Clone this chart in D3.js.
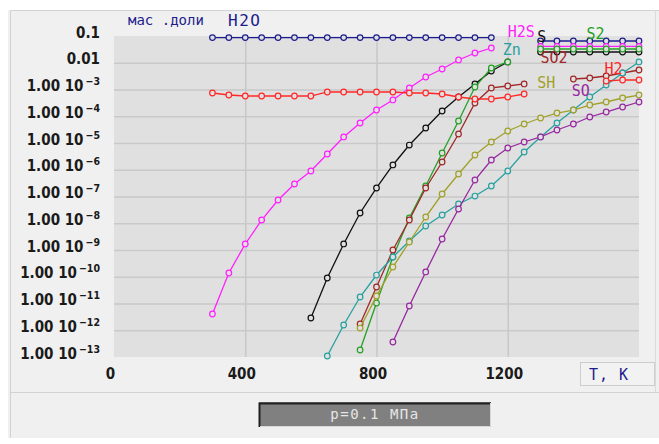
<!DOCTYPE html>
<html>
<head>
<meta charset="utf-8">
<script src="https://cdn.jsdelivr.net/npm/d3@7/dist/d3.min.js"></script>
<style>
  html, body { margin: 0; padding: 0; background: #ffffff; }
  svg { display: block; }
</style>
</head>
<body>
<svg id="chart" width="659" height="444"></svg>
<script>
// Temperatures, K (step 50 K)
const temps = [300,350,400,450,500,550,600,650,700,750,800,850,900,950,1000,
               1050,1100,1150,1200,1250,1300,1350,1400,1450,1500,1550,1600];

// Mass fractions per species (null = no visible point)
const H2O = [0.087,0.087,0.087,0.087,0.087,0.087,0.087,0.087,0.087,0.087,0.087,0.087,0.087,0.087,0.087,
             0.087,0.087,0.087,null,null,0.065,0.065,0.065,0.065,0.065,0.065,0.065];
const H2S = [4.05e-12,1.38e-10,1.68e-9,1.32e-8,7.4e-8,2.93e-7,8.97e-7,3.88e-6,1.68e-5,5.6e-5,1.71e-4,4.06e-4,
             1.14e-3,2.93e-3,5.84e-3,0.0127,0.0231,0.0356,null,null,0.041,0.041,0.041,0.041,0.041,0.041,0.041];
const S   = [null,null,null,null,null,null,2.87e-12,8.98e-11,1.68e-9,2.42e-8,2.08e-7,1.51e-6,8.4e-6,3.64e-5,
             1.57e-4,5.25e-4,1.61e-3,4.92e-3,0.0107,null,0.0252,0.0252,0.0252,0.0252,0.0252,0.0252,0.0252];
const S2  = [null,null,null,null,null,null,null,null,null,1.83e-13,1.04e-11,5.47e-10,1.57e-8,2.47e-7,4.23e-6,
             6.64e-5,1.24e-3,6.37e-3,0.0107,null,0.0327,0.0327,0.0327,0.0327,0.0327,0.0327,0.0327];
const SO2 = [null,null,null,null,null,null,null,null,null,1.71e-12,4.14e-11,1e-9,1.32e-8,2.08e-7,1.95e-6,
             2.17e-5,3.13e-4,1.14e-3,1.35e-3,1.61e-3,null,null,2.47e-3,2.69e-3,3.2e-3,4.14e-3,5.36e-3];
const Zn  = [null,null,null,null,null,null,null,1.09e-13,1.57e-12,1.75e-11,1.16e-10,5.47e-10,2.17e-9,7.88e-9,
             2.03e-8,5.25e-8,1.04e-7,2.47e-7,8.97e-7,4.61e-6,1.68e-5,5.6e-5,1.71e-4,5.25e-4,1.47e-3,4.14e-3,0.0107];
const SH  = [null,null,null,null,null,null,null,null,null,1.21e-12,1.91e-11,2.31e-10,1.99e-9,1.71e-8,1.24e-7,
             6.93e-7,3.56e-6,1.09e-5,2.81e-5,5.13e-5,8.6e-5,1.32e-4,1.71e-4,2.63e-4,3.41e-4,4.81e-4,6.22e-4];
const SO  = [null,null,null,null,null,null,null,null,null,null,null,3.64e-13,8.07e-12,1.51e-10,2.58e-9,
             3.41e-8,4.14e-7,2.31e-6,6.5e-6,1.09e-5,1.68e-5,3.06e-5,5.13e-5,9.38e-5,1.44e-4,2.22e-4,3.41e-4];
const H2  = [7.4e-4,6.22e-4,5.71e-4,5.71e-4,5.71e-4,5.71e-4,5.71e-4,8.07e-4,8.07e-4,8.07e-4,8.07e-4,8.07e-4,
             7.4e-4,7.4e-4,6.79e-4,5.25e-4,4.42e-4,4.42e-4,5.25e-4,6.79e-4,null,null,null,null,2.08e-3,2.27e-3,2.27e-3];

// Axis ticks and their labels
const xTicks = [0, 400, 800, 1200];
const yTicks = [1e-1,1e-2,1e-3,1e-4,1e-5,1e-6,1e-7,1e-8,1e-9,1e-10,1e-11,1e-12,1e-13];
const yTickBase = ["0.1","0.01","1.00 10","1.00 10","1.00 10","1.00 10","1.00 10","1.00 10",
                   "1.00 10","1.00 10","1.00 10","1.00 10","1.00 10"];
const yTickExp  = ["","","−3","−4","−5","−6","−7","−8","−9","−10","−11","−12","−13"];
const xGrid = [400, 800, 1200];
const yGrid = [1e-2,1e-3,1e-4,1e-5,1e-6,1e-7,1e-8,1e-9,1e-10,1e-11,1e-12];

// Series styling
const series = [
  { name: "H2O", values: H2O, color: "#1c1c8c" },
  { name: "H2S", values: H2S, color: "#ff20ff" },
  { name: "S",   values: S,   color: "#101010" },
  { name: "S2",  values: S2,  color: "#25a025" },
  { name: "SO2", values: SO2, color: "#a02828" },
  { name: "Zn",  values: Zn,  color: "#28a0a0" },
  { name: "SH",  values: SH,  color: "#a0a028" },
  { name: "SO",  values: SO,  color: "#9828a0" },
  { name: "H2",  values: H2,  color: "#ff2828" }
];

// Curve labels: anchor temperature / value (text baseline-left)
const curveLabels = [
  { text: "H2S", color: "#ff20ff", t: 1200, v: 0.092 },
  { text: "S",   color: "#101010", t: 1290, v: 0.06 },
  { text: "S2",  color: "#25a025", t: 1440, v: 0.077 },
  { text: "Zn",  color: "#28a0a0", t: 1185, v: 0.0195 },
  { text: "SO2", color: "#a02828", t: 1300, v: 0.0098 },
  { text: "H2",  color: "#ff2828", t: 1495, v: 0.0038 },
  { text: "SH",  color: "#a0a028", t: 1290, v: 1.14e-3 },
  { text: "SO",  color: "#9828a0", t: 1395, v: 5.7e-4 }
];

const svg = d3.select("#chart");
const W = 659, H = 444;
const plot = { left: 114, right: 639, top: 36, bottom: 357 };

const x = d3.scaleLinear().domain([0, 1600]).range([plot.left, plot.right]);
const y = d3.scaleLog().domain([1e-13, 0.1]).range([plot.bottom, plot.top]);

// Window panels
svg.append("rect").attr("x", 8).attr("y", 10).attr("width", W - 8).attr("height", H - 16)
  .attr("fill", "#f0f0f0");
svg.append("path").attr("d", `M10.5,${H - 6} V10.5 H${W}`)
  .attr("fill", "none").attr("stroke", "#d2d2d2");
svg.append("line").attr("x1", 10).attr("x2", W).attr("y1", 392.5).attr("y2", 392.5)
  .attr("stroke", "#d2d2d2");
svg.append("line").attr("x1", 655.5).attr("x2", 655.5).attr("y1", 10).attr("y2", 392)
  .attr("stroke", "#dadada");

// Plot area
svg.append("rect").attr("x", plot.left).attr("y", plot.top)
  .attr("width", plot.right - plot.left).attr("height", plot.bottom - plot.top)
  .attr("fill", "#e0e0e0");

// Grid
const gy = svg.append("g").attr("transform", `translate(${plot.left},0)`)
  .call(d3.axisLeft(y).tickValues(yGrid).tickSize(-(plot.right - plot.left)).tickFormat(""));
const gx = svg.append("g").attr("transform", `translate(0,${plot.bottom})`)
  .call(d3.axisBottom(x).tickValues(xGrid).tickSize(-(plot.bottom - plot.top)).tickFormat(""));
[gy, gx].forEach(g => {
  g.select(".domain").remove();
  g.selectAll(".tick line").attr("stroke", "#c9c9c9").attr("stroke-width", 1.6);
});

// Y tick labels
const tickFont = "'DejaVu Sans Condensed', 'Liberation Sans', sans-serif";
const ya = svg.append("g").attr("transform", `translate(${plot.left},0)`)
  .call(d3.axisLeft(y).tickValues(yTicks).tickSize(0).tickPadding(14).tickFormat(""));
ya.select(".domain").remove();
ya.selectAll(".tick text").each(function(d, i) {
  const t = d3.select(this)
    .attr("font-family", tickFont).attr("font-weight", "bold").attr("font-size", 15)
    .attr("fill", "#1a1a1a").attr("text-anchor", "end").attr("dy", null).attr("y", 1);
  t.text(null);
  t.append("tspan").text(yTickBase[i]);
  if (yTickExp[i]) {
    t.append("tspan").attr("dx", 2).attr("dy", -6).attr("font-size", 10.5).text(yTickExp[i]);
  }
});

// X tick labels
const xa = svg.append("g").attr("transform", `translate(-4,${plot.bottom})`)
  .call(d3.axisBottom(x).tickValues(xTicks).tickSize(0).tickPadding(11).tickFormat(d3.format("d")));
xa.select(".domain").remove();
xa.selectAll(".tick text")
  .attr("font-family", tickFont).attr("font-weight", "bold").attr("font-size", 15)
  .attr("fill", "#1a1a1a");

// Curves
const line = d3.line()
  .defined(d => d.v != null)
  .x(d => x(d.t))
  .y(d => y(d.v));

const gSeries = svg.append("g");
series.forEach(s => {
  const pts = temps.map((t, i) => ({ t, v: s.values[i] }));
  gSeries.append("path").datum(pts)
    .attr("fill", "none").attr("stroke", s.color).attr("stroke-width", 1.3)
    .attr("d", line);
  gSeries.append("g").selectAll("circle")
    .data(pts.filter(d => d.v != null))
    .join("circle")
    .attr("cx", d => x(d.t)).attr("cy", d => y(d.v)).attr("r", 2.8)
    .attr("fill", "#e0e0e0").attr("stroke", s.color).attr("stroke-width", 1.2);
});

// Labels
const labelFont = "'DejaVu Sans Mono', monospace";
svg.append("text").attr("x", 128).attr("y", 25)
  .attr("font-family", labelFont).attr("font-size", 14).attr("fill", "#1c1c8c")
  .text("мас .доли");
svg.append("text").attr("x", 228).attr("y", 26)
  .attr("font-family", labelFont).attr("font-size", 16).attr("letter-spacing", 1.5)
  .attr("fill", "#1c1c8c").text("H2O");

svg.append("g").selectAll("text")
  .data(curveLabels)
  .join("text")
  .attr("x", d => x(d.t)).attr("y", d => y(d.v))
  .attr("font-family", labelFont).attr("font-size", 15)
  .attr("fill", d => d.color)
  .text(d => d.text);

// Axis unit box
svg.append("rect").attr("x", 580.5).attr("y", 362.5).attr("width", 74).attr("height", 23)
  .attr("fill", "#f2f2f2").attr("stroke", "#cdcdcd");
svg.append("text").attr("x", 589).attr("y", 380)
  .attr("font-family", labelFont).attr("font-size", 15).attr("letter-spacing", 1)
  .attr("fill", "#1c1c8c").text("T, K");

// Pressure indicator
svg.append("rect").attr("x", 259).attr("y", 402).attr("width", 232).attr("height", 25)
  .attr("fill", "#808080");
svg.append("path").attr("d", "M259.5,427 V403.5 H491")
  .attr("fill", "none").attr("stroke", "#202020").attr("stroke-width", 2);
svg.append("path").attr("d", "M260,426.5 H490.5 V403")
  .attr("fill", "none").attr("stroke", "#d8d8d8").attr("stroke-width", 1);
svg.append("text").attr("x", 375).attr("y", 419).attr("text-anchor", "middle")
  .attr("font-family", labelFont).attr("font-size", 14).attr("letter-spacing", 1.5)
  .attr("fill", "#e6e6e6").text("p=0.1 МПа");
</script>
</body>
</html>
